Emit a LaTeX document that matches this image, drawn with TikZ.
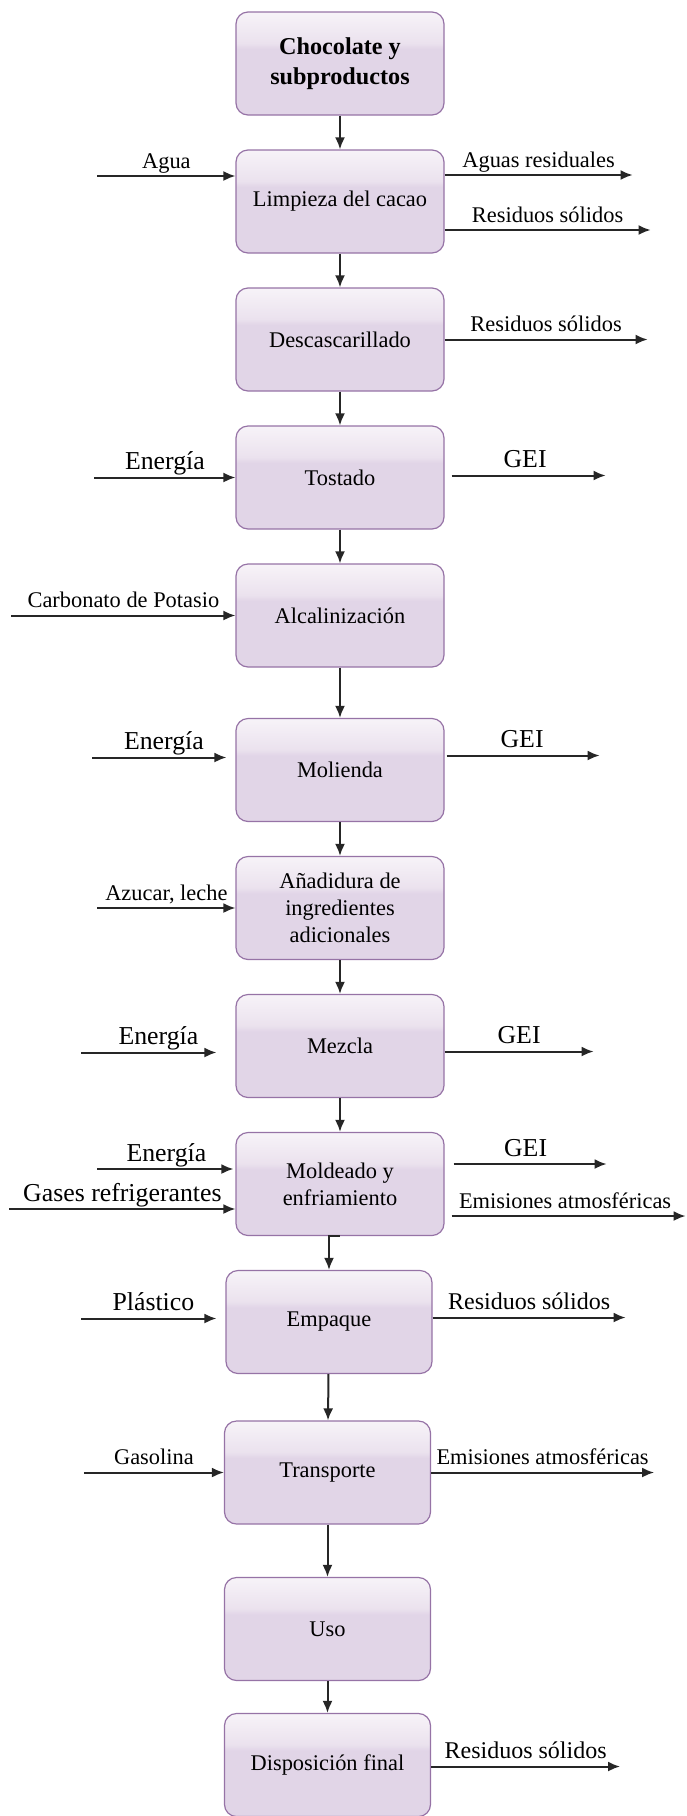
\documentclass[tikz,border=0pt]{standalone}
\usepackage{fontspec}
\setmainfont{Liberation Serif}
\usepackage{tikz}
\usepackage{xcolor}
\usetikzlibrary{positioning}
\usetikzlibrary{arrows.meta}
\definecolor{procfill}{HTML}{E1D5E7}
\definecolor{procmid}{HTML}{EBE2EE}
\definecolor{proctop}{HTML}{F7F3F8}
\definecolor{procline}{HTML}{9673A6}
\pgfdeclareverticalshading{procglass}{100bp}{color(0bp)=(procfill); color(57bp)=(procfill); color(60bp)=(procmid); color(75bp)=(proctop); color(100bp)=(proctop)}
\tikzstyle{process} = [rectangle, rounded corners=6pt, minimum width=104pt, minimum height=51.5pt, text centered, align=center, draw=procline, line width=0.6pt, shading=procglass, font=\fontsize{11.2}{13.4}\selectfont]
\tikzstyle{arrow} = [line width=1pt, draw=black!85, -{Latex[length=6pt,width=5pt]}]
\tikzstyle{flow} = [anchor=base, yshift=4pt, inner sep=0pt, font=\fontsize{11.2}{13.4}\selectfont]
\tikzstyle{flowbig} = [flow, font=\fontsize{12.9}{15}\selectfont]
\tikzstyle{flowmid} = [flow, font=\fontsize{12}{14}\selectfont]

\begin{document}
\begin{tikzpicture}[node distance=69pt]
        \useasboundingbox (0,0) rectangle (343pt,-908pt);

        \node (choc) [process, font=\fontsize{12.1}{15}\selectfont\bfseries] at (170pt,-31.75pt) {Chocolate y\\ subproductos};
        \node (limpieza) [process, below of=choc] {Limpieza del cacao};
        \node (descasc) [process, below of=limpieza] {Descascarillado};
        \node (tostado) [process, below of=descasc] {Tostado};
        \node (alcalin) [process, below of=tostado] {Alcalinización};
        \node (molienda) [process, below of=alcalin, yshift=-8.25pt] {Molienda};
        \node (anadidura) [process, below of=molienda] {Añadidura de\\ ingredientes\\ adicionales};
        \node (mezcla) [process, below of=anadidura] {Mezcla};
        \node (moldeado) [process, below of=mezcla] {Moldeado y\\ enfriamiento};
        \node (empaque) [process, below of=moldeado, xshift=-5.5pt, minimum width=103pt] {Empaque};
        \node (transporte) [process, below of=empaque, yshift=-6.25pt, xshift=-0.75pt, minimum width=103pt] {Transporte};
        \node (uso) [process, below of=transporte, yshift=-9.25pt, minimum width=103pt] {Uso};
        \node (disposicion) [process, below of=uso, yshift=1pt, minimum width=103pt] {Disposición final};

        \draw [arrow] (choc) -- (limpieza);
        \draw [arrow] (limpieza) -- (descasc);
        \draw [arrow] (descasc) -- (tostado);
        \draw [arrow] (tostado) -- (alcalin);
        \draw [arrow] (alcalin) -- (molienda);
        \draw [arrow] (molienda) -- (anadidura);
        \draw [arrow] (anadidura) -- (mezcla);
        \draw [arrow] (mezcla) -- (moldeado);
        \draw [arrow] (moldeado.south) -| (empaque.north);
        \draw [arrow] (empaque) -- (transporte);
        \draw [arrow] (transporte) -- (uso);
        \draw [arrow] (uso) -- (disposicion);

        \coordinate (agua) at ([xshift=-69pt, yshift=12.75pt] limpieza.west);
        \coordinate (aguasres) at ([xshift=94pt, yshift=13.25pt] limpieza.east);
        \coordinate (limpres) at ([xshift=103pt, yshift=-14.25pt] limpieza.east);
        \draw [arrow] (agua) -- node[flow] {Agua} (agua -| limpieza.west);
        \draw [arrow] (aguasres -| limpieza.east) -- node[flow] {Aguas residuales} (aguasres);
        \draw [arrow] (limpres -| limpieza.east) -- node[flow] {Residuos sólidos} (limpres);

        \coordinate (descres) at ([xshift=101.5pt] descasc.east);
        \draw [arrow] (descres -| descasc.east) -- node[flow] {Residuos sólidos} (descres);

        \coordinate (tostE) at ([xshift=-70.5pt] tostado.west);
        \coordinate (tostG) at ([xshift=80.5pt, yshift=1pt] tostado.east);
        \draw [arrow] (tostE) -- node[flowbig] {Energía} (tostE -| tostado.west);
        \draw [arrow, shorten <=3.5pt] (tostG -| tostado.east) -- node[flowbig] {GEI} (tostG);

        \coordinate (carbonato) at ([xshift=-112pt] alcalin.west);
        \draw [arrow] (carbonato) -- node[flow] {Carbonato de Potasio} (carbonato -| alcalin.west);

        \coordinate (molE) at ([xshift=-71.5pt, yshift=6.25pt] molienda.west);
        \coordinate (molG) at ([xshift=77.5pt, yshift=7.25pt] molienda.east);
        \draw [arrow, shorten >=4.5pt] (molE) -- node[flowbig] {Energía} (molE -| molienda.west);
        \draw [arrow, shorten <=1pt] (molG -| molienda.east) -- node[flowbig] {GEI} (molG);

        \coordinate (azucar) at ([xshift=-69pt] anadidura.west);
        \draw [arrow] (azucar) -- node[flow] {Azucar, leche} (azucar -| anadidura.west);

        \coordinate (mezE) at ([xshift=-77pt, yshift=-3.25pt] mezcla.west);
        \coordinate (mezG) at ([xshift=74.5pt, yshift=-2.75pt] mezcla.east);
        \draw [arrow, shorten >=9.5pt] (mezE) -- node[flowbig] {Energía} (mezE -| mezcla.west);
        \draw [arrow] (mezG -| mezcla.east) -- node[flowbig] {GEI} (mezG);

        \coordinate (molE2) at ([xshift=-69pt, yshift=7.5pt] moldeado.west);
        \coordinate (gases) at ([xshift=-113pt, yshift=-12.5pt] moldeado.west);
        \coordinate (molG2) at ([xshift=81pt, yshift=10pt] moldeado.east);
        \coordinate (molEm) at ([xshift=120.5pt, yshift=-16pt] moldeado.east);
        \draw [arrow, shorten >=1pt] (molE2) -- node[flowbig] {Energía} (molE2 -| moldeado.west);
        \draw [arrow] (gases) -- node[flowbig] {Gases refrigerantes} (gases -| moldeado.west);
        \draw [arrow, shorten <=4.5pt] (molG2 -| moldeado.east) -- node[flowbig] {GEI} (molG2);
        \draw [arrow, shorten <=3.5pt] (molEm -| moldeado.east) -- node[flow] {Emisiones atmosféricas} (molEm);

        \coordinate (plastico) at ([xshift=-72pt, yshift=1.75pt] empaque.west);
        \coordinate (empres) at ([xshift=96.5pt, yshift=2.25pt] empaque.east);
        \draw [arrow, shorten >=4.5pt] (plastico) -- node[flowbig] {Plástico} (plastico -| empaque.west);
        \draw [arrow] (empres -| empaque.east) -- node[flowmid] {Residuos sólidos} (empres);

        \coordinate (gasolina) at ([xshift=-70pt] transporte.west);
        \coordinate (transEm) at ([xshift=111.5pt] transporte.east);
        \draw [arrow] (gasolina) -- node[flow] {Gasolina} (gasolina -| transporte.west);
        \draw [arrow] (transEm -| transporte.east) -- node[flow] {Emisiones atmosféricas} (transEm);

        \coordinate (dispres) at ([xshift=94.5pt, yshift=-0.75pt] disposicion.east);
        \draw [arrow] (dispres -| disposicion.east) -- node[flowmid] {Residuos sólidos} (dispres);

    \end{tikzpicture}
\end{document}
